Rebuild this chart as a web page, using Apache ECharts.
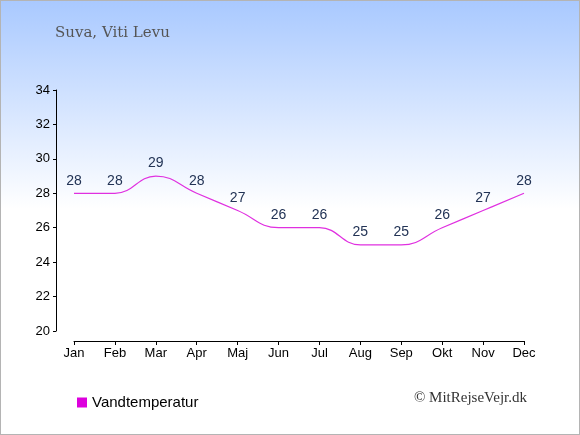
<!DOCTYPE html>
<html lang="da">
<head>
<meta charset="utf-8">
<script src="https://cdn.jsdelivr.net/npm/echarts@6/dist/echarts.min.js"></script>
<style>
  html, body { margin: 0; padding: 0; }
  #main { width: 578px; height: 433px; border: 1px solid #b4b4b4; }
</style>
</head>
<body>
<div id="main"></div>
<script type="text/javascript">
  var months = ['Jan', 'Feb', 'Mar', 'Apr', 'Maj', 'Jun', 'Jul', 'Aug', 'Sep', 'Okt', 'Nov', 'Dec'];
  var waterTemp = [28, 28, 29, 28, 27, 26, 26, 25, 25, 26, 27, 28];
  var yTicks = { min: 20, max: 34, step: 2 };

  var chart = echarts.init(document.getElementById('main'));
  chart.setOption({
    animation: false,
    backgroundColor: new echarts.graphic.LinearGradient(0, 0, 0, 1, [
      { offset: 0, color: '#a9c9ff' },
      { offset: 0.48, color: '#ffffff' },
      { offset: 1, color: '#ffffff' }
    ]),
    title: {
      text: 'Suva, Viti Levu',
      left: 49, top: 20,
      textStyle: { fontFamily: 'DejaVu Serif', fontSize: 15, fontWeight: 'normal', color: '#555555' }
    },
    grid: { left: 73, right: 55, top: 89, bottom: 103 },
    xAxis: {
      type: 'category',
      data: months,
      boundaryGap: false,
      offset: 10,
      axisLine: { lineStyle: { color: '#000', width: 1 } },
      axisTick: { alignWithLabel: true, length: 4, lineStyle: { color: '#000' } },
      axisLabel: { color: '#000', fontFamily: 'Liberation Sans', fontSize: 13, margin: 6 }
    },
    yAxis: {
      type: 'value',
      min: yTicks.min, max: yTicks.max, interval: yTicks.step,
      offset: 18,
      splitLine: { show: false },
      axisLine: { show: true, lineStyle: { color: '#000', width: 1 } },
      axisTick: { show: true, length: 3, lineStyle: { color: '#000' } },
      axisLabel: { color: '#000', fontFamily: 'Liberation Sans', fontSize: 13, margin: 6 }
    },
    legend: {
      left: 71, top: 389,
      itemWidth: 10, itemHeight: 10, itemGap: 6,
      icon: 'rect',
      itemStyle: { color: '#dd00dd', opacity: 1 },
      textStyle: { fontFamily: 'Liberation Sans', fontSize: 15, color: '#000' },
      data: ['Vandtemperatur']
    },
    graphic: [{
      type: 'text',
      right: 52, top: 390,
      style: { text: '© MitRejseVejr.dk', font: '15px "Liberation Serif"', fill: '#333' }
    }],
    series: [{
      name: 'Vandtemperatur',
      type: 'line',
      data: waterTemp,
      smooth: 0.45,
      symbol: 'circle',
      symbolSize: 1,
      showSymbol: true,
      itemStyle: { color: '#dd00dd', opacity: 0 },
      lineStyle: { color: '#e030e0', width: 1.2, opacity: 1 },
      label: {
        show: true, position: 'top', distance: 5, opacity: 1,
        color: '#223355', fontFamily: 'Liberation Sans', fontSize: 14
      }
    }]
  });
</script>
</body>
</html>
